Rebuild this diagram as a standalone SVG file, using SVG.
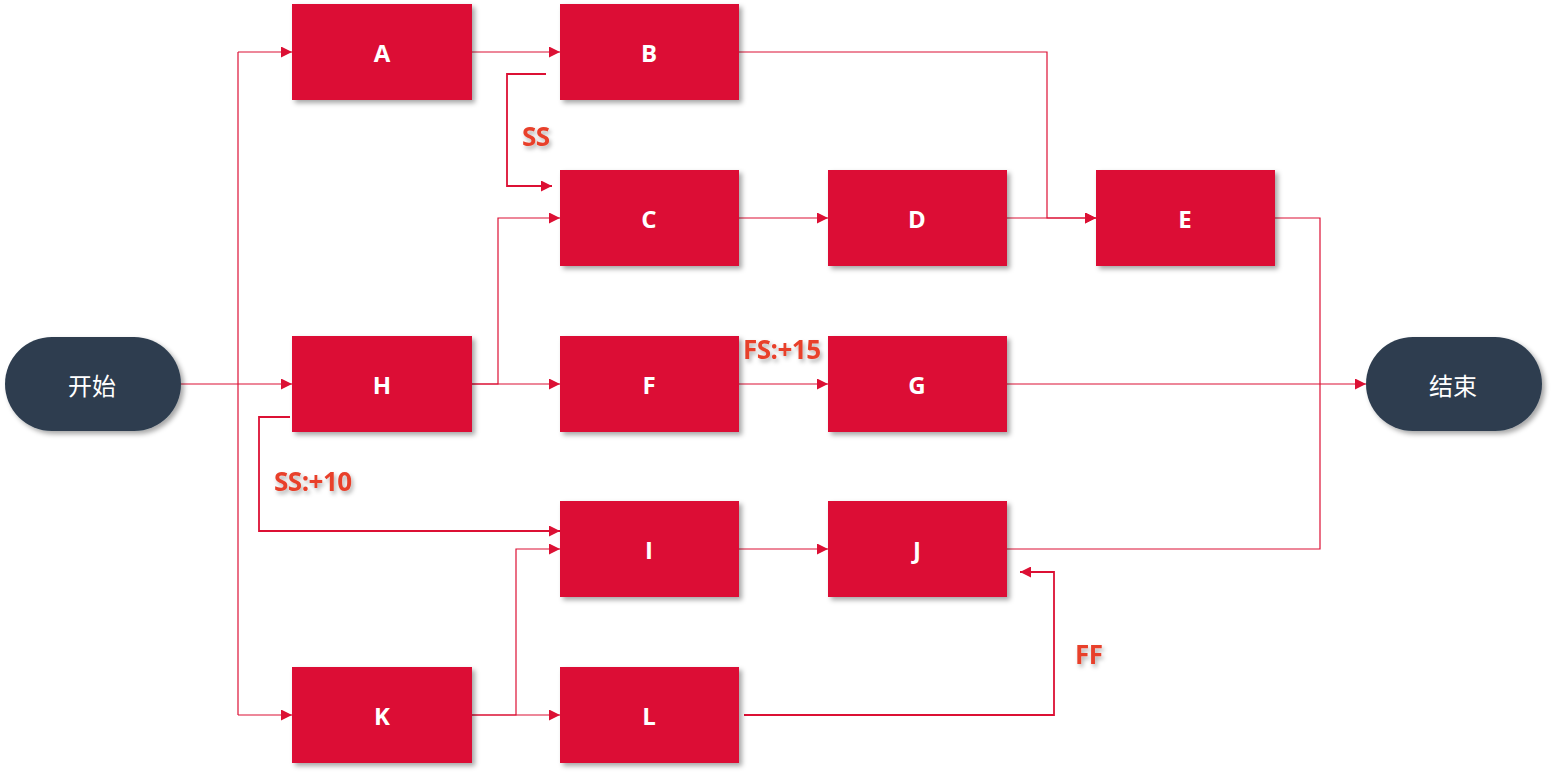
<svg xmlns="http://www.w3.org/2000/svg" width="1555" height="776" viewBox="0 0 1555 776">
<style>
.box{fill:#DC1034;filter:url(#sh)}
.pill{fill:#2D3E50;filter:url(#sh)}
.bt{font-family:"Open Sans","Liberation Sans",sans-serif;font-weight:bold;font-size:24px;fill:#fff;text-anchor:middle;dominant-baseline:central}
.pt{font-family:"Noto Sans CJK SC",sans-serif;font-size:24px;fill:#fff;text-anchor:middle;dominant-baseline:central}
.lbl{font-family:"Open Sans","Liberation Sans",sans-serif;font-weight:bold;font-size:26px;letter-spacing:-0.5px;fill:#E8402C;filter:url(#tsh)}
.c{fill:none;stroke:#DC1034;stroke-width:1.2}
.d{stroke-width:1.8}
.a{marker-end:url(#arr)}
</style>
<defs>
<filter id="sh" x="-20%" y="-20%" width="150%" height="150%">
<feDropShadow dx="3" dy="3" stdDeviation="2.5" flood-color="#000" flood-opacity="0.35"/>
</filter>
<filter id="tsh" x="-20%" y="-20%" width="150%" height="150%">
<feDropShadow dx="2" dy="3" stdDeviation="2" flood-color="#000" flood-opacity="0.3"/>
</filter>
<marker id="arr" viewBox="0 0 10 10" refX="10" refY="5" markerWidth="11" markerHeight="11" markerUnits="userSpaceOnUse" orient="auto">
<path d="M0,0 L10,5 L0,10 z" fill="#DC1034"/>
</marker>
</defs>
<g id="connectors">
<path class="c a" d="M181,384 H292"/>
<path class="c" d="M238,52 V715"/>
<path class="c a" d="M238,52 H292"/>
<path class="c a" d="M238,715 H292"/>
<path class="c a" d="M472,52 H560"/>
<path class="c a" d="M739,52 H1047 V218 H1096"/>
<path class="c d a" d="M546,74 H507 V186 H552"/>
<path class="c a" d="M472,384 H498 V218 H560"/>
<path class="c a" d="M472,384 H560"/>
<path class="c a" d="M739,218 H828"/>
<path class="c a" d="M1007,218 H1096"/>
<path class="c" d="M1275,218 H1320 V384"/>
<path class="c a" d="M739,384 H828"/>
<path class="c a" d="M1007,384 H1366"/>
<path class="c" d="M1007,549 H1320 V384"/>
<path class="c d a" d="M290,417 H259 V531 H560"/>
<path class="c a" d="M739,549 H828"/>
<path class="c a" d="M472,715 H516 V549 H560"/>
<path class="c a" d="M472,715 H560"/>
<path class="c d a" d="M744,715 H1054 V572 H1020"/>
<text class="lbl" x="522" y="146">SS</text>
<text class="lbl" x="743" y="359">FS:+15</text>
<text class="lbl" x="274" y="491">SS:+10</text>
<text class="lbl" x="1075" y="664">FF</text>
</g>
<g id="start"><rect class="pill" x="5" y="337" width="176" height="94" rx="47"/><text class="pt" x="92" y="384">开始</text></g>
<g id="end"><rect class="pill" x="1366" y="337" width="176" height="94" rx="47"/><text class="pt" x="1453" y="384">结束</text></g>
<g id="A"><rect class="box" x="292" y="4" width="180" height="96"/><text class="bt" x="382" y="52">A</text></g>
<g id="B"><rect class="box" x="560" y="4" width="179" height="96"/><text class="bt" x="649" y="52">B</text></g>
<g id="C"><rect class="box" x="560" y="170" width="179" height="96"/><text class="bt" x="649" y="218">C</text></g>
<g id="D"><rect class="box" x="828" y="170" width="179" height="96"/><text class="bt" x="917" y="218">D</text></g>
<g id="E"><rect class="box" x="1096" y="170" width="179" height="96"/><text class="bt" x="1185" y="218">E</text></g>
<g id="H"><rect class="box" x="292" y="336" width="180" height="96"/><text class="bt" x="382" y="384">H</text></g>
<g id="F"><rect class="box" x="560" y="336" width="179" height="96"/><text class="bt" x="649" y="384">F</text></g>
<g id="G"><rect class="box" x="828" y="336" width="179" height="96"/><text class="bt" x="917" y="384">G</text></g>
<g id="I"><rect class="box" x="560" y="501" width="179" height="96"/><text class="bt" x="649" y="549">I</text></g>
<g id="J"><rect class="box" x="828" y="501" width="179" height="96"/><text class="bt" x="917" y="549">J</text></g>
<g id="K"><rect class="box" x="292" y="667" width="180" height="96"/><text class="bt" x="382" y="715">K</text></g>
<g id="L"><rect class="box" x="560" y="667" width="179" height="96"/><text class="bt" x="649" y="715">L</text></g>
</svg>
